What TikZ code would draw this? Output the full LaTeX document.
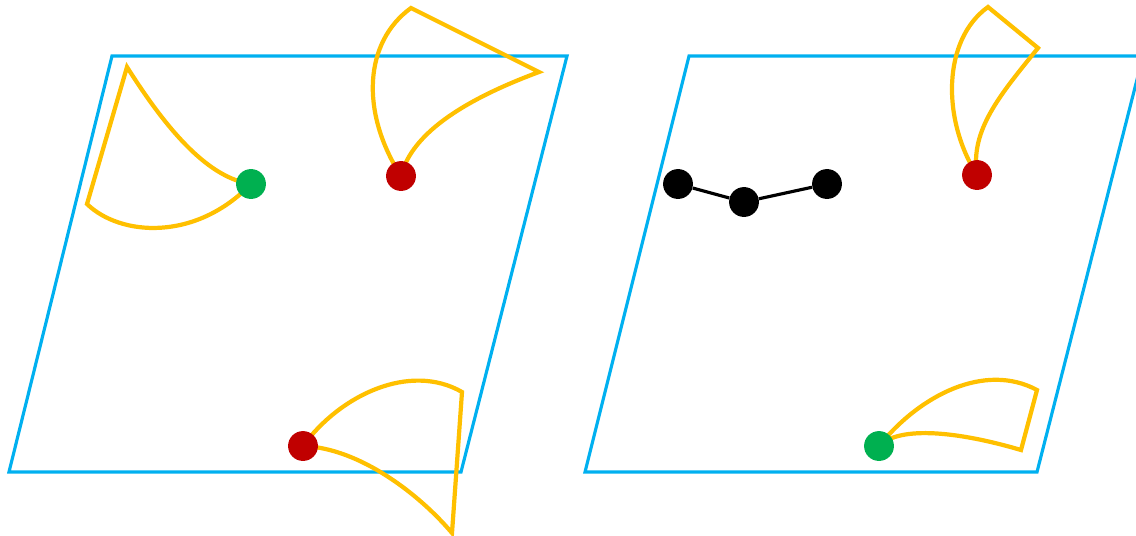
\documentclass[tikz,border=0pt]{standalone}
\definecolor{pblue}{RGB}{0,176,240}
\definecolor{pyellow}{RGB}{255,192,0}
\definecolor{pgreen}{RGB}{0,176,80}
\definecolor{pred}{RGB}{192,0,0}
\tikzset{
  frame/.style={draw=pblue, line width=1.8pt, line join=miter},
  sector/.style={draw=pyellow, line width=2.4pt, line join=miter},
  dot/.style={circle, inner sep=0pt, minimum size=17pt},
  gdot/.style={dot, fill=pgreen},
  rdot/.style={dot, fill=pred},
  kdot/.style={dot, fill=black},
  link/.style={draw=black, line width=1.8pt}
}
\begin{document}
\begin{tikzpicture}[x={(0.02cm,0)}, y={(0,-0.02cm)}]
\useasboundingbox (0,0) rectangle (1136,535);
\clip (0,0) rectangle (1136,535);
% frames
\draw[frame] (112,56) -- (567,56) -- (461,472) -- (9,472) -- cycle;
\draw[frame] (689,56) -- (1143,56) -- (1037,472) -- (585,472) -- cycle;
% coordinates of dots
\coordinate (cg1) at (251,184);
\coordinate (cr1) at (401,176);
\coordinate (cr2) at (303,446);
\coordinate (cr3) at (977,175);
\coordinate (cg2) at (879,446);
\coordinate (a1) at (127,67);
\coordinate (a2) at (87,204);
\coordinate (b1) at (411,8);
\coordinate (b2) at (539,72);
\coordinate (c1) at (462,392);
\coordinate (c2) at (452,533);
\coordinate (d1) at (988,7);
\coordinate (d2) at (1038,48);
\coordinate (e1) at (1037,390);
\coordinate (e2) at (1021,450);
% sectors
\draw[sector] (cg1) .. controls (210,178) and (170,135) .. (a1) -- (a2)
  .. controls (120,236) and (195,242) .. (cg1);
\draw[sector] (cr1) .. controls (360,112) and (364,42) .. (b1) -- (b2)
  .. controls (450,105) and (410,140) .. (cr1);
\draw[sector] (cr2) .. controls (340,395) and (410,362) .. (c1) -- (c2)
  .. controls (420,495) and (360,448) .. (cr2);
\draw[sector] (cr3) .. controls (942,120) and (942,40) .. (d1) -- (d2)
  .. controls (1000,95) and (970,130) .. (cr3);
\draw[sector] (cg2) .. controls (920,395) and (985,362) .. (e1) -- (e2)
  .. controls (960,432) and (900,425) .. (cg2);
% dots
\node[gdot] (g1) at (cg1) {};
\node[rdot] (r1) at (cr1) {};
\node[rdot] (r2) at (cr2) {};
\node[rdot] (r3) at (cr3) {};
\node[gdot] (g2) at (cg2) {};
% black chain
\node[kdot] (k1) at (678,184) {};
\node[kdot] (k2) at (744,202) {};
\node[kdot] (k3) at (827,184) {};
\draw[link] (k1) -- (k2) -- (k3);
\end{tikzpicture}
\end{document}
